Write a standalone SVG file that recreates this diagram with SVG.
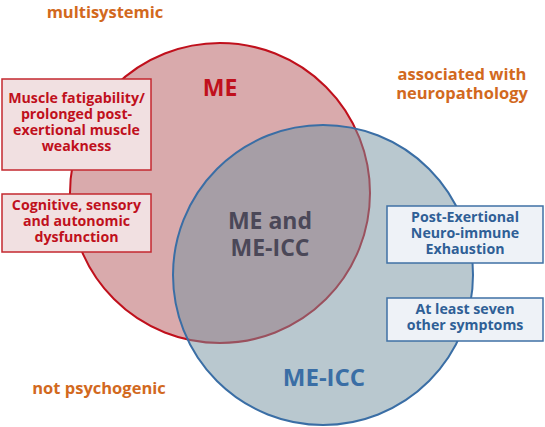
<svg xmlns="http://www.w3.org/2000/svg" width="545" height="427" viewBox="0 0 545 427">
<style>
text{font-family:"Open Sans","Noto Sans","DejaVu Sans",sans-serif;font-weight:bold;text-anchor:middle}
.or{fill:#d2691e;font-size:16.5px}
.rbox{fill:#f1e0e1;stroke:#c4282f;stroke-width:1.5}
.bbox{fill:#eef2f7;stroke:#3f70a5;stroke-width:1.5}
.rt{fill:#c0101c;font-size:14.2px}
.bt{fill:#2f5f96;font-size:14.2px}
</style>
<rect width="545" height="427" fill="#fff"/>
<g id="circle-me">
<circle cx="220" cy="193" r="150" fill="#d9aaac" stroke="#c0101c" stroke-width="2"/>
</g>
<g id="circle-meicc">
<circle cx="323" cy="275" r="150" fill="#73919f" fill-opacity="0.5" stroke="#3a6ea5" stroke-width="2"/>
</g>
<g id="labels">
<text x="220" y="96" fill="#c0101c" font-size="23">ME</text>
<text x="270" y="229" fill="#4b4858" font-size="23">ME and</text>
<text x="270" y="256" fill="#4b4858" font-size="23">ME-ICC</text>
<text x="324" y="386" fill="#3a6ea5" font-size="24">ME-ICC</text>
<text class="or" x="105" y="18">multisystemic</text>
<text class="or" x="462" y="80">associated with</text>
<text class="or" x="462" y="99">neuropathology</text>
<text class="or" x="99" y="394">not psychogenic</text>
</g>
<g id="box-muscle">
<rect class="rbox" x="2" y="79" width="149" height="91"/>
<text class="rt" x="76.5" y="103">Muscle fatigability/</text>
<text class="rt" x="76.5" y="119">prolonged post-</text>
<text class="rt" x="76.5" y="135">exertional muscle</text>
<text class="rt" x="76.5" y="151">weakness</text>
</g>
<g id="box-cognitive">
<rect class="rbox" x="2" y="194" width="149" height="58"/>
<text class="rt" x="76.5" y="210">Cognitive, sensory</text>
<text class="rt" x="76.5" y="226">and autonomic</text>
<text class="rt" x="76.5" y="242">dysfunction</text>
</g>
<g id="box-pene">
<rect class="bbox" x="387" y="206" width="156" height="57"/>
<text class="bt" x="465" y="222">Post-Exertional</text>
<text class="bt" x="465" y="238">Neuro-immune</text>
<text class="bt" x="465" y="254">Exhaustion</text>
</g>
<g id="box-seven">
<rect class="bbox" x="387" y="298" width="156" height="43"/>
<text class="bt" x="465" y="314">At least seven</text>
<text class="bt" x="465" y="330">other symptoms</text>
</g>
<g id="connectors"/>
</svg>
